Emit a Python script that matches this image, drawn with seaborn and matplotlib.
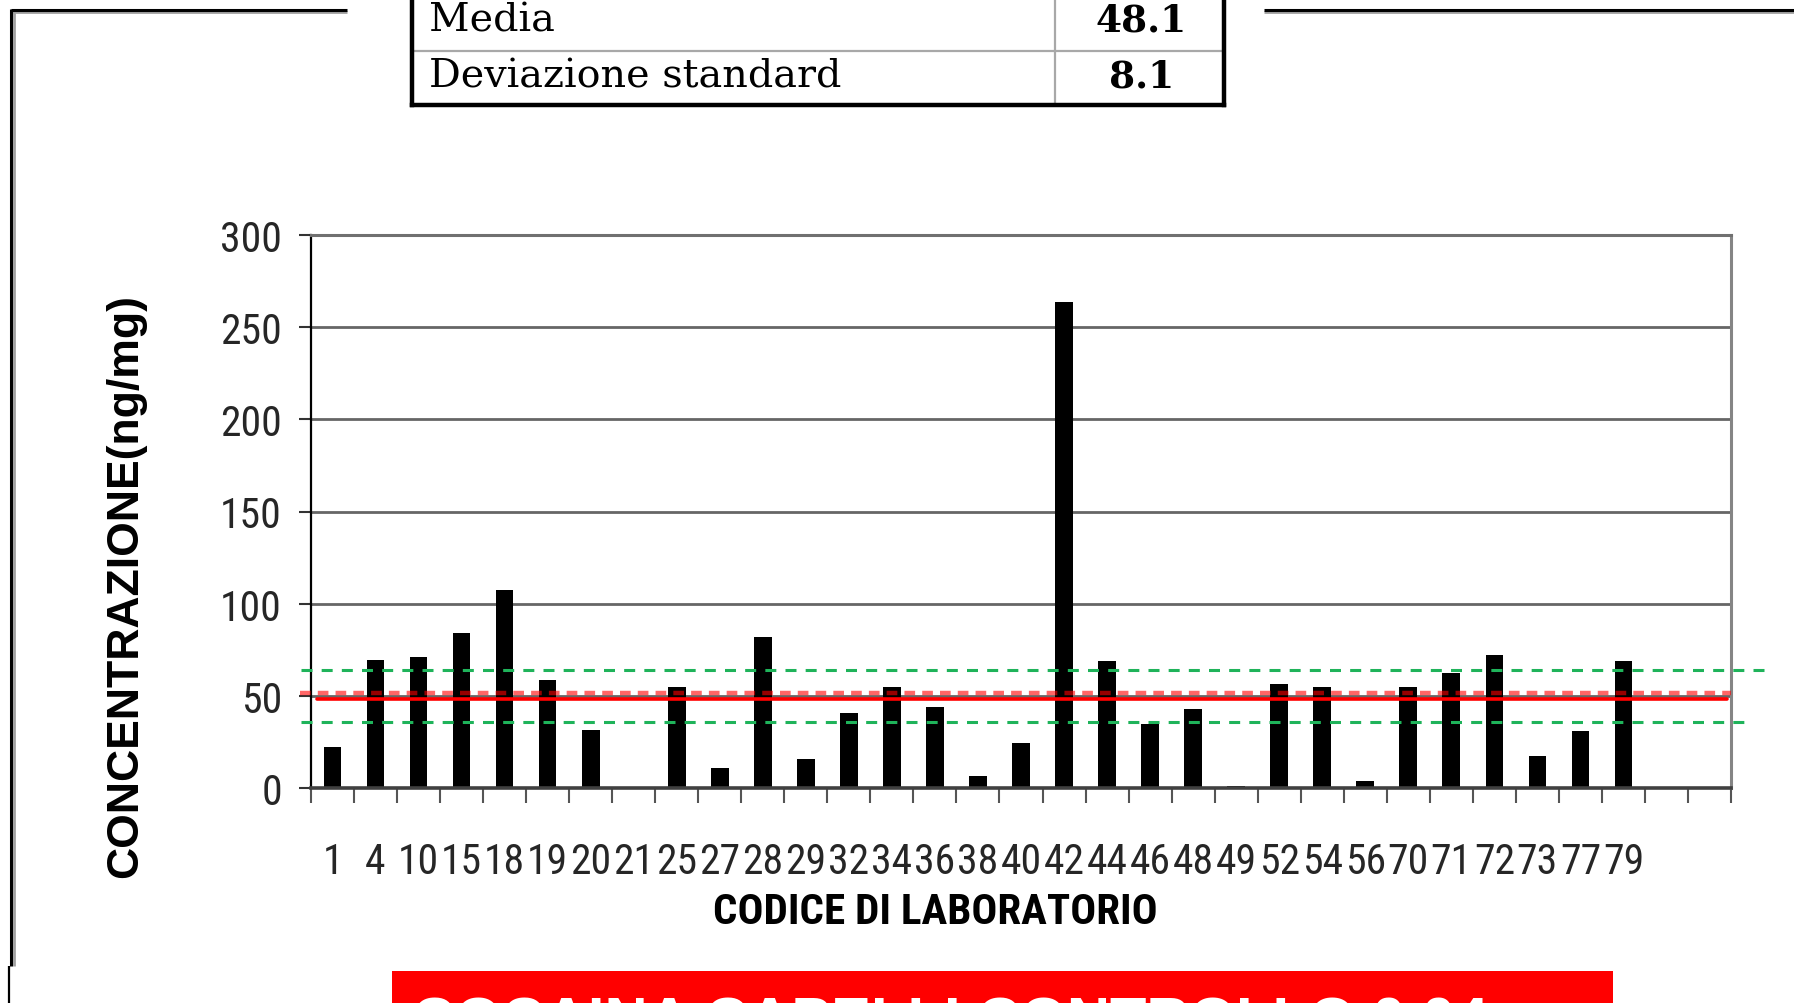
"""
Concentrazione di cocaina nei capelli per codice di laboratorio.
"""
import matplotlib
matplotlib.use("Agg")
import numpy as np
import pandas as pd
import seaborn as sns
import matplotlib.pyplot as plt
from matplotlib import font_manager
from matplotlib.lines import Line2D
from matplotlib.patches import Rectangle

# dati
codici = ["1", "4", "10", "15", "18", "19", "20", "21", "25", "27", "28", "29",
          "32", "34", "36", "38", "40", "42", "44", "46", "48", "49", "52", "54",
          "56", "70", "71", "72", "73", "77", "79"]
concentrazione = [22.0, 69.7, 70.9, 84.2, 107.3, 58.4, 31.6, 0.0, 54.7, 11.1,
                  82.0, 15.8, 40.6, 54.7, 44.0, 6.4, 24.4, 263.7, 68.8, 34.6,
                  42.7, 1.2, 56.4, 54.7, 3.8, 54.7, 62.4, 72.2, 17.5, 30.8, 68.8]
slot_vuoti = 2  # due posizioni vuote a destra
media = 48.1
dev_std = 8.1
linea_rossa_tratt = 51.8
limiti_verdi = [64.1, 35.7]
yticks = [0, 50, 100, 150, 200, 250, 300]

tabella_etichette = ["Media", "Deviazione standard"]
tabella_valori = [f"{media}", f"{dev_std}"]

W, H = 1794, 1004

sns.set_style("white")

# cerca un font stretto (tipo Arial Narrow), altrimenti Liberation Sans
fonts = font_manager.fontManager.ttflist
nomi = {f.name for f in fonts}
stretto, stretch, fs_tick = None, "normal", 30
for cand in ["Liberation Sans Narrow", "Arial Narrow", "Roboto Condensed",
             "Open Sans Condensed", "Noto Sans Condensed", "DejaVu Sans Condensed"]:
    if cand in nomi:
        stretto = cand
        break
if stretto is None:
    for f in fonts:
        if str(f.stretch) in ("condensed", "semi-condensed", "extra-condensed") \
                or (isinstance(f.stretch, int) and f.stretch < 500):
            stretto, stretch = f.name, f.stretch
            break
if stretto is None:
    stretto, fs_tick = "Liberation Sans", 25

plt.rcParams["font.family"] = ["Liberation Sans", "DejaVu Sans"]
fp_tick = dict(fontfamily=stretto, fontstretch=stretch, fontsize=fs_tick)

fig = plt.figure(figsize=(W / 100, H / 100), dpi=100)

# area del grafico
x0, x1, y0, y1 = 311, 1731, 789, 236
ax = fig.add_axes([x0 / W, 1 - y0 / H, (x1 - x0) / W, (y0 - y1) / H])

df = pd.DataFrame({"codice": codici, "conc": concentrazione})
sns.barplot(data=df, x="codice", y="conc", color="black", saturation=1,
            width=0.41, linewidth=0, ax=ax, zorder=2)

n = len(codici) + slot_vuoti
ax.set_xlim(-0.5, n - 0.5)
ax.set_ylim(0, 300)
ax.set_yticks(yticks)
ax.set_axisbelow(True)
ax.yaxis.grid(True, color="#666666", lw=2.0)
ax.xaxis.grid(False)

ax.set_xticks(np.arange(len(codici)))
ax.set_xticklabels(codici, **fp_tick)
ax.set_xticks(np.arange(-0.5, n, 1), minor=True)
ax.tick_params(axis="x", which="major", length=0, pad=38)
ax.tick_params(axis="x", which="minor", length=11, width=1.5,
               color="#555555", direction="out", bottom=True)
ax.tick_params(axis="y", which="major", length=9, width=1.5, color="#333333",
               direction="out", left=True, pad=12)
for lab in ax.get_yticklabels():
    lab.set_fontfamily(stretto)
    lab.set_fontstretch(stretch)
    lab.set_fontsize(fs_tick)

ax.spines["left"].set_color("black")
ax.spines["left"].set_linewidth(1.6)
ax.spines["bottom"].set_color("#404040")
ax.spines["bottom"].set_linewidth(2.6)
ax.spines["right"].set_color("#858585")
ax.spines["right"].set_linewidth(2.2)
ax.spines["top"].set_color("#707070")
ax.spines["top"].set_linewidth(2.2)

# linee di riferimento
ax.axhline(limiti_verdi[0], xmin=-0.007, xmax=1.025, color="#1fb35a",
           lw=2.2, dashes=(3.6, 3.0), clip_on=False, zorder=4)
ax.axhline(limiti_verdi[1], xmin=-0.007, xmax=1.013, color="#1fb35a",
           lw=2.2, dashes=(3.6, 3.0), clip_on=False, zorder=4)
ax.axhline(linea_rossa_tratt, xmin=-0.008, xmax=1.0, color="#ff0000",
           alpha=0.6, lw=3.2, dashes=(2.4, 1.6), clip_on=False, zorder=4)
ax.axhline(media, xmin=0.004, xmax=0.997, color="#ff0000", lw=2.6,
           clip_on=False, zorder=5)

ax.set_xlabel("CODICE DI LABORATORIO", fontfamily=stretto, fontstretch=stretch,
              fontweight="bold", fontsize=fs_tick + 1, color="black")
ax.xaxis.set_label_coords((935 - x0) / (x1 - x0), (y0 - 913) / (y0 - y1))
ax.xaxis.label.set_va("center")
ax.set_ylabel("CONCENTRAZIONE(ng/mg)", fontweight="bold", fontsize=32,
              color="black")
ax.yaxis.set_label_coords((126 - x0) / (x1 - x0), (y0 - 586) / (y0 - y1))
ax.yaxis.label.set_va("center")

# cornice della pagina
def linea(xs, ys, col, lw):
    fig.add_artist(Line2D([x / W for x in xs], [1 - y / H for y in ys],
                          transform=fig.transFigure, color=col, lw=lw,
                          solid_capstyle="butt"))

linea([11, 347], [13, 13], "#a0a0a0", 2.0)
linea([1264, W], [13, 13], "#a0a0a0", 2.0)
linea([14, 14], [11, 967], "#a0a0a0", 2.0)
linea([11, 347], [11, 11], "black", 2.2)
linea([1264, W], [11, 11], "black", 2.2)
linea([11, 11], [10, 967], "black", 2.2)
linea([9, 9], [967, H], "black", 1.6)

# tabella in alto
tx0, tx1, ty1 = 412, 1224, 106
tab = fig.add_axes([tx0 / W, 1 - ty1 / H, (tx1 - tx0) / W, ty1 / H])
tab.set_xlim(0, 1)
tab.set_ylim(0, 1)
tab.set_xticks([])
tab.set_yticks([])
tab.set_facecolor("white")
tab.spines["top"].set_visible(False)
for s in ["left", "right", "bottom"]:
    tab.spines[s].set_color("black")
    tab.spines[s].set_linewidth(3.2)
div = (1055 - tx0) / (tx1 - tx0)
tab.axhline(0.514, color="#a8a8a8", lw=1.6)
tab.axvline(div, color="#a8a8a8", lw=1.6)
for i, (et, val) in enumerate(zip(tabella_etichette, tabella_valori)):
    yy = [0.80, 0.27][i]
    tab.text(0.021, yy, et, ha="left", va="center", fontsize=28.5,
             fontfamily="DejaVu Serif", color="black")
    tab.text(0.898, yy, val, ha="center", va="center", fontsize=27,
             fontfamily="DejaVu Serif", fontweight="bold", color="black")

# banda rossa in basso
fig.add_artist(Rectangle((392 / W, 0), (1613 - 392) / W, 32 / H,
                         transform=fig.transFigure, color="#ff0000", lw=0))
fig.text(412 / W, 1 - 997 / H, "COCAINA CAPELLI CONTROLLO 0.04", ha="left",
         va="top", fontsize=43, fontweight="bold", color="white")

fig.savefig("out.png", dpi=100)
